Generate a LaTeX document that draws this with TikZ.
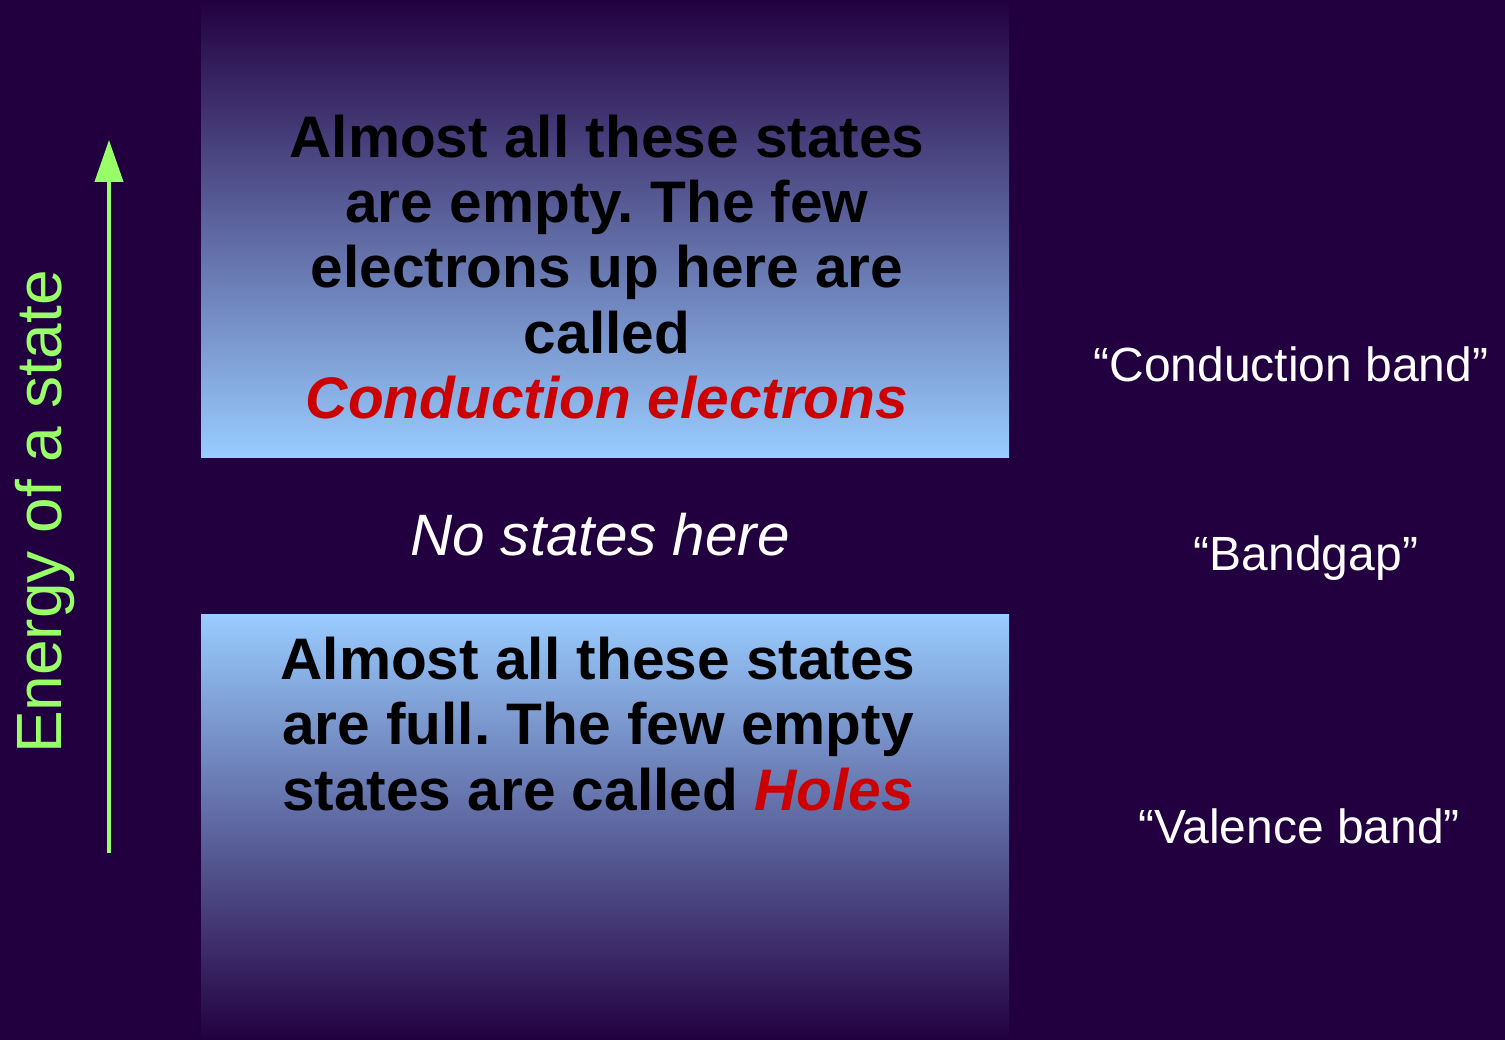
\documentclass[tikz,border=0pt]{standalone}
\usepackage{fontspec}
\setmainfont{Liberation Sans}
\usetikzlibrary{arrows.meta}
\definecolor{bgpurple}{HTML}{220040}
\definecolor{bandblue}{HTML}{99CCFF}
\definecolor{arrowgreen}{HTML}{99FF66}
\definecolor{carrierred}{HTML}{CC0000}
\tikzset{
  bigtext/.style={font=\fontsize{58.6}{65.5}\selectfont\bfseries\frenchspacing, text=black, align=center, inner sep=0pt, anchor=base},
  sidelabel/.style={font=\fontsize{48}{55}\selectfont, text=white, inner sep=0pt, anchor=base},
  gaptext/.style={font=\fontsize{58.4}{65}\selectfont\itshape, text=white, inner sep=0pt, anchor=base},
  axislabel/.style={font=\fontsize{64}{70}\selectfont, text=arrowgreen, inner sep=0pt, anchor=base, rotate=90},
}
\newcommand{\redword}[1]{\textcolor{carrierred}{\itshape #1}}
\begin{document}
\begin{tikzpicture}[x=1pt,y=-1pt]
  \fill[bgpurple] (0,0) rectangle (1505,1040);
  \useasboundingbox (0,0) rectangle (1505,1040);
  % bands
  \shade[top color=bgpurple, bottom color=bandblue] (201,0) rectangle (1009,457);
  \shade[top color=bandblue, bottom color=bgpurple] (201,614) rectangle (1009,1040);
  % axis arrow
  \coordinate (arrowfoot) at (109,853);
  \coordinate (arrowtip) at (109,140);
  \draw[arrowgreen, line width=4pt, -{Triangle[length=42pt,width=28pt]}] (arrowfoot) -- (arrowtip);
  \node[axislabel] (energy) at (61,512) {Energy of a state};
  % band texts
  \node[bigtext] (cbtext) at (607,419) {Almost all these states\\are empty. The few\\electrons up here are\\called\\\redword{Conduction electrons}};
  \node[gaptext] (gaptxt) at (600,555) {No states here};
  \node[bigtext] (vbtext) at (598,810) {Almost all these states\\are full. The few empty\\states are called \redword{Holes}};
  % side labels
  \node[sidelabel] (cblabel) at (1291,382) {“Conduction band”};
  \node[sidelabel] (bglabel) at (1306,570) {“Bandgap”};
  \node[sidelabel] (vblabel) at (1299,843) {“Valence band”};
\end{tikzpicture}
\end{document}
